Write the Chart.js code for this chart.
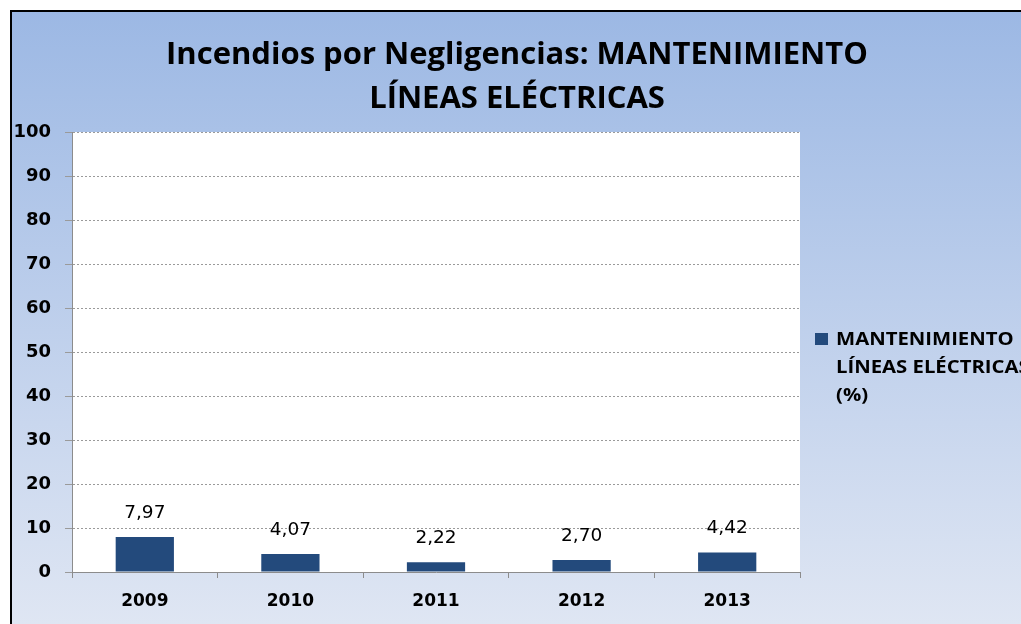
<!DOCTYPE html>
<html>
<head>
<meta charset="utf-8">
<script src="https://cdn.jsdelivr.net/npm/chart.js@4/dist/chart.umd.min.js"></script>
<style>
  html, body { margin: 0; padding: 0; background: #ffffff; }
  #wrap { width: 1021px; height: 624px; position: relative; }
</style>
</head>
<body>
<div id="wrap"><canvas id="chart" width="1021" height="624"></canvas></div>
<script>
// data
var years = ["2009", "2010", "2011", "2012", "2013"];
var percentages = [7.97, 4.07, 2.22, 2.70, 4.42];
var titleLines = ["Incendios por Negligencias: MANTENIMIENTO", "LÍNEAS ELÉCTRICAS"];
var legendLines = ["MANTENIMIENTO", "LÍNEAS ELÉCTRICAS", "(%)"];

var TITLE_FONT = "'Open Sans', sans-serif";
var TICK_FONT = "'DejaVu Sans', sans-serif";
var BAR_COLOR = "#234a7c";

// background gradient, black frame, white plot area
var frame_plugin = {
	id: "frame",
	beforeDraw: function(chart) {
		var ctx = chart.ctx, w = chart.width, h = chart.height;
		ctx.save();
		ctx.fillStyle = "#ffffff";
		ctx.fillRect(0, 0, w, h);
		var g = ctx.createLinearGradient(0, 11, 0, h);
		g.addColorStop(0, "#9cb8e4");
		g.addColorStop(1, "#dfe6f3");
		ctx.fillStyle = g;
		ctx.fillRect(11, 11, w - 11, h - 11);
		ctx.fillStyle = "#000000";
		ctx.fillRect(10, 10, w - 10, 2);
		ctx.fillRect(10, 10, 2, h - 10);
		var a = chart.chartArea;
		ctx.fillStyle = "#ffffff";
		ctx.fillRect(a.left, a.top, a.right - a.left, a.bottom - a.top);
		ctx.restore();
	}
};

// title, legend and value labels drawn on top
var text_plugin = {
	id: "texts",
	afterDraw: function(chart) {
		var ctx = chart.ctx;
		ctx.save();
		ctx.fillStyle = "#000000";
		ctx.textAlign = "center";
		ctx.textBaseline = "middle";
		ctx.font = "bold 31px " + TITLE_FONT;
		ctx.fillText(titleLines[0], 517, 55);
		ctx.fillText(titleLines[1], 517, 99);

		// value labels above bars
		ctx.font = "18.5px " + TICK_FONT;
		var meta = chart.getDatasetMeta(0);
		meta.data.forEach(function(bar, i) {
			ctx.fillText(percentages[i].toFixed(2).replace(".", ","), bar.x, bar.y - 24);
		});

		// legend (text a bit wider than the font, like the source)
		ctx.fillStyle = BAR_COLOR;
		ctx.fillRect(815, 333, 13, 12);
		ctx.fillStyle = "#000000";
		ctx.textAlign = "left";
		ctx.font = "bold 17.5px " + TITLE_FONT;
		ctx.translate(836, 0);
		ctx.scale(1.16, 1);
		for (var i = 0; i < legendLines.length; i++) {
			ctx.fillText(legendLines[i], 0, 340 + i * 28);
		}
		ctx.restore();
	}
};

var ctx = document.getElementById("chart").getContext("2d");
var chart = new Chart(ctx, {
	type: "bar",
	data: {
		labels: years,
		datasets: [{
			label: legendLines.join(" "),
			data: percentages,
			backgroundColor: BAR_COLOR,
			barPercentage: 0.4,
			categoryPercentage: 1.0
		}]
	},
	options: {
		responsive: false,
		animation: false,
		layout: { padding: { top: 132, right: 221, left: 0, bottom: 0 } },
		plugins: {
			legend: { display: false },
			title: { display: false },
			tooltip: { enabled: false }
		},
		scales: {
			x: {
				grid: { drawOnChartArea: false, drawTicks: true, tickLength: 6, color: "#8c8c8c", offset: true },
				border: { color: "#8c8c8c", width: 1 },
				ticks: { color: "#000000", font: { family: TICK_FONT, size: 17, weight: "bold" }, padding: 13 },
				afterFit: function(scale) { scale.height = 52; }
			},
			y: {
				min: 0,
				max: 100,
				ticks: { stepSize: 10, color: "#000000", font: { family: TICK_FONT, size: 18, weight: "bold" }, padding: 14 },
				grid: { color: "#9a9a9a", tickLength: 7 },
				border: { color: "#8c8c8c", width: 1, dash: [2, 2] },
				afterFit: function(scale) { scale.width = 72; }
			}
		}
	},
	plugins: [frame_plugin, text_plugin]
});
</script>
</body>
</html>
